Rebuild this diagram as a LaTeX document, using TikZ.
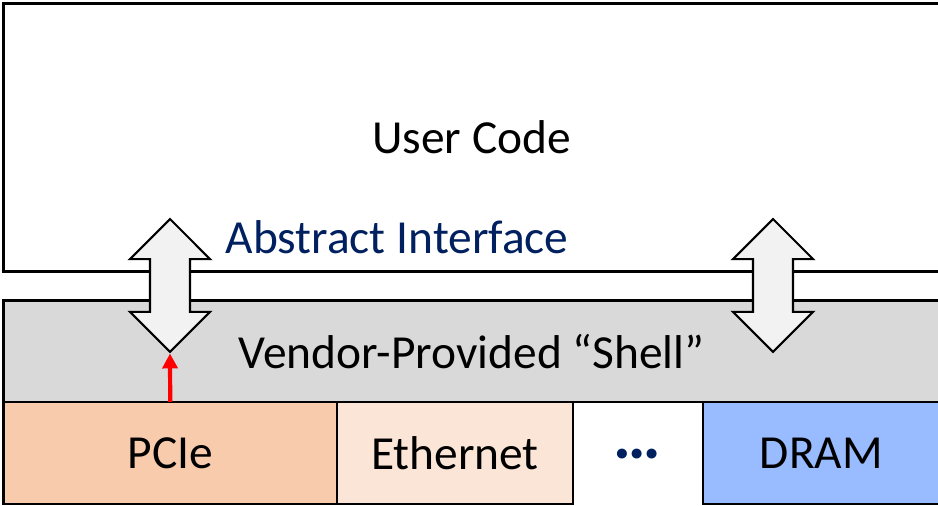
\documentclass[tikz,border=0pt]{standalone}
\usepackage{fontspec}
\setmainfont{Carlito}
\usepackage{tikz}
\usetikzlibrary{shapes.arrows,arrows.meta,positioning}
\definecolor{shellgray}{HTML}{D9D9D9}
\definecolor{pciefill}{HTML}{F8CBAD}
\definecolor{ethfill}{HTML}{FBE5D6}
\definecolor{dramfill}{HTML}{99BBFF}
\definecolor{ifnavy}{HTML}{002060}
\definecolor{ifgray}{HTML}{F2F2F2}
\tikzset{
  layer/.style={
    draw = black,
    line width = 1.5pt,
    inner sep = 0pt,
    outer sep = 0pt,
    anchor = north west,
    font = \fontsize{27}{32}\selectfont
  },
  iface/.style={
    shape = double arrow,
    draw = black,
    fill = ifgray,
    line width = 1.2pt,
    inner xsep = 0pt,
    inner ysep = 0.38cm,
    rotate = 90,
    minimum height = 2.66cm,
    minimum width = 1.56cm,
    double arrow head extend = 0.4cm,
    double arrow tip angle = 90
  },
  lbl/.style={
    font = \fontsize{27}{32}\selectfont,
    inner sep = 0pt
  },
  feed/.style={
    red,
    line width = 2.4pt,
    -{Triangle[length=0.3cm, width=0.3cm]}
  }
}

\begin{document}
\begin{tikzpicture}[x=0.02cm, y=-0.02cm]
    \useasboundingbox (0,0) rectangle (938,506);
    \clip (0,0) rectangle (938,506);

    \node[layer, fill=white, minimum width=18.73cm, minimum height=5.36cm] (user) at (3.5,3.5) {User Code};
    \node[layer, fill=shellgray, minimum width=18.73cm, minimum height=2.03cm] (shell) at (3.5,300.5) {Vendor-Provided “Shell”};

    \node[layer, fill=pciefill, minimum width=6.67cm, minimum height=2.04cm] (pcie) at (3.5,402) {PCIe};
    \node[layer, fill=ethfill, minimum width=4.72cm, minimum height=2.04cm, anchor=west, right=0pt of pcie] (eth) {Ethernet};
    \node[layer, fill=dramfill, minimum width=4.74cm, minimum height=2.04cm, anchor=west, right=2.6cm of eth] (dram) {DRAM};
    \node[lbl, ifnavy, anchor=base, font=\fontsize{38}{44}\selectfont] (dots) at (637,459) {\textbf{…}};

    \node[iface] (ifleft) at (170,285.5) {};
    \node[iface] (ifright) at (773,285.5) {};
    \node[lbl, ifnavy] (abstract) at (397,237) {Abstract Interface};

    \draw[feed] (pcie.north) -- (ifleft.tip 2);
\end{tikzpicture}
\end{document}
